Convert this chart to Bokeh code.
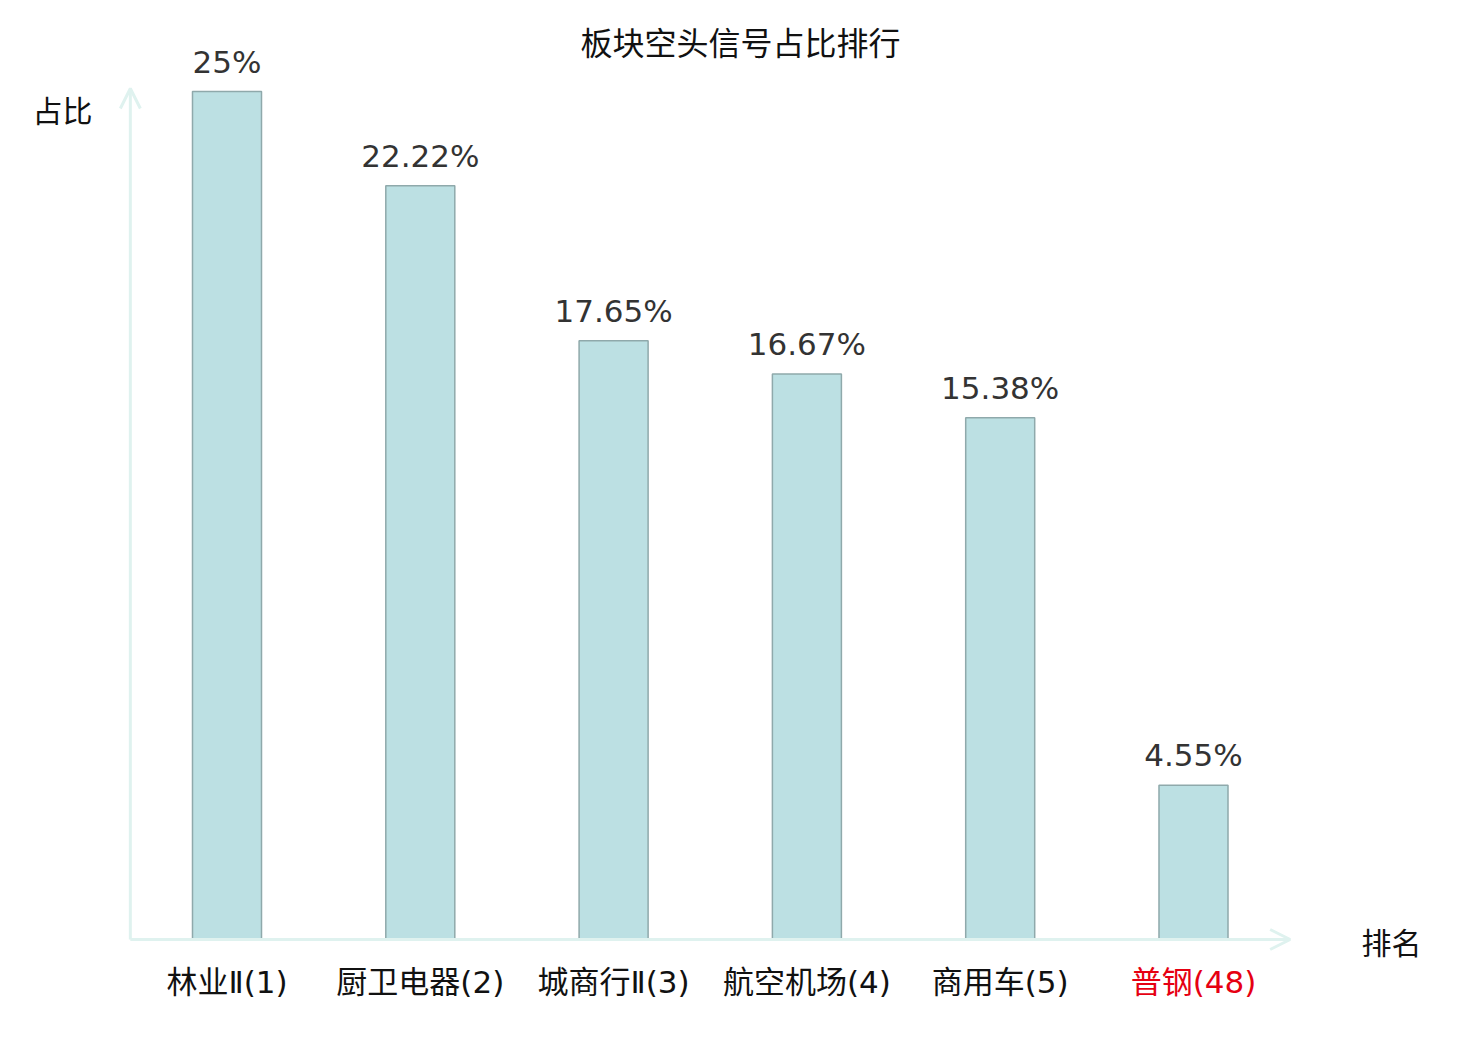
from bokeh.plotting import figure
from bokeh.models import Range1d, Arrow, OpenHead, ColumnDataSource, Label
from bokeh.core.properties import value
from bokeh.embed import file_html
from bokeh.resources import INLINE

# ---- data ----
categories = ["林业Ⅱ(1)", "厨卫电器(2)", "城商行Ⅱ(3)", "航空机场(4)", "商用车(5)", "普钢(48)"]
shares = [25.0, 22.22, 17.65, 16.67, 15.38, 4.55]
share_labels = ["25%", "22.22%", "17.65%", "16.67%", "15.38%", "4.55%"]
label_colors = ["#111111", "#111111", "#111111", "#111111", "#111111", "#e60012"]
title_text = "板块空头信号占比排行"
y_name = "占比"
x_name = "排名"

W, H = 1464, 1024
# pixel layout (canvas coords)
x0_px, dx_px = 226.5, 193.3      # center of first bar, spacing
y0_px, dy_px = 939.0, 33.92      # baseline (from top), px per percent

def X(px):
    return (px - x0_px) / dx_px

def Y(py):
    return (y0_px - py) / dy_px

p = figure(width=W, height=H, x_range=Range1d(X(0), X(W)), y_range=Range1d(Y(H), Y(0)),
           output_backend="svg", toolbar_location=None, min_border=0, title=None)
p.axis.visible = False
p.grid.visible = False
p.outline_line_color = None
p.background_fill_color = "white"
p.border_fill_color = "white"

xs = list(range(len(categories)))
src = ColumnDataSource(dict(x=xs, top=shares, lab=share_labels, cat=categories, col=label_colors))

axis_col = "#dff2ef"
# axes with open arrow heads
p.add_layout(Arrow(end=OpenHead(size=20, line_color=axis_col, line_width=3),
                   x_start=-0.5, y_start=0, x_end=-0.5, y_end=Y(88),
                   line_color=axis_col, line_width=3))
p.add_layout(Arrow(end=OpenHead(size=20, line_color=axis_col, line_width=3),
                   x_start=-0.5, y_start=0, x_end=5.5, y_end=0,
                   line_color=axis_col, line_width=3))

p.vbar(x="x", top="top", bottom=0, width=0.357, source=src,
       fill_color="#bce0e3", line_color="#8fa9ab", line_width=1.5)

p.text(x="x", y="top", text="lab", source=src, text_align="center", text_baseline="alphabetic",
       y_offset=-30, text_font=value("DejaVu Sans"), text_font_size="31px", text_color="#333333")

p.text(x="x", y=0, text="cat", source=src, text_align="center", text_baseline="middle",
       y_offset=42, text_font=value('"DejaVu Sans", "Noto Sans CJK SC"'),
       text_font_size="31px", text_color="col")

font = "Noto Sans CJK SC"
p.add_layout(Label(x=X(740), y=Y(40), text=title_text, text_align="center",
                   text_baseline="middle", text_font=font, text_font_size="32px", text_color="#111111"))
p.add_layout(Label(x=X(62), y=Y(108), text=y_name, text_align="center",
                   text_baseline="middle", text_font=font, text_font_size="30px", text_color="#111111"))
p.add_layout(Label(x=X(1391), y=Y(940), text=x_name, text_align="center",
                   text_baseline="middle", text_font=font, text_font_size="30px", text_color="#111111"))

open("out.html", "w").write(file_html(p, INLINE))
